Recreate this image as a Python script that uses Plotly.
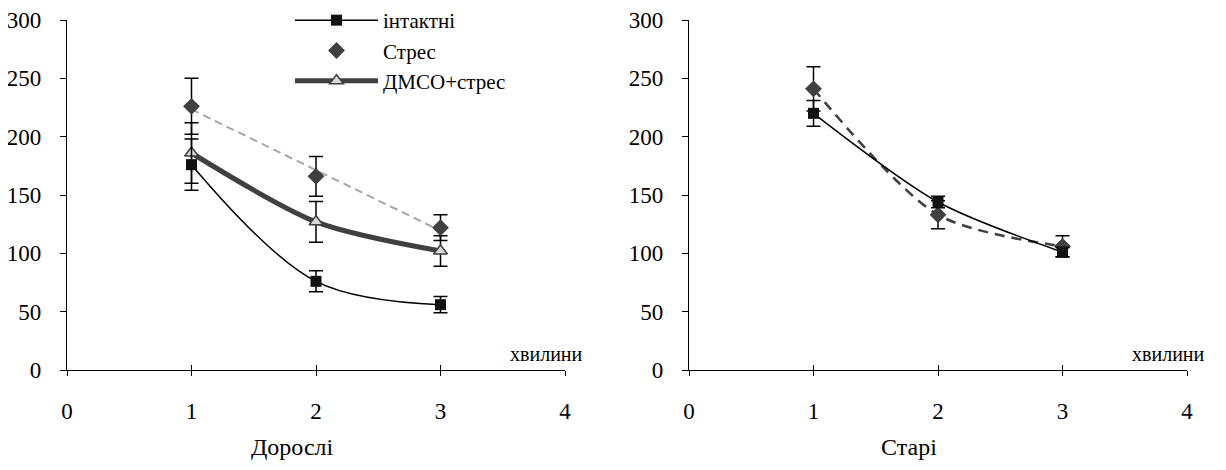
import numpy as np
import plotly.graph_objects as go

# ---- data ----
minutes = [1, 2, 3]
adult_intact = [176, 76, 56]
adult_intact_err = [22, 9, 7]
adult_stress = [226, 166, 122]
adult_stress_err = [24, 17, 11]
adult_dmso = [186, 127, 102]
adult_dmso_err = [26, 17.5, 13]
old_intact = [220, 144, 101]
old_intact_err = [11, 5, 4]
old_stress = [241, 133, 106]
old_stress_err = [19, 12, 9]

names = ["інтактні", "Стрес", "ДМСО+стрес"]
panel_titles = ["Дорослі", "Старі"]
x_unit = "хвилини"
x_ticks = [0, 1, 2, 3, 4]
y_ticks = [0, 50, 100, 150, 200, 250, 300]

FONT = "Liberation Serif"
W, H = 1226, 470
OFF = 8  # page body margin

fig = go.Figure()

def eb(vals):
    return dict(type="data", array=vals, color="black", thickness=1.5, width=7)

# Left panel
fig.add_trace(go.Scatter(
    x=minutes, y=adult_dmso, error_y=eb(adult_dmso_err), name=names[2],
    mode="lines+markers", line=dict(color="#404040", width=5, shape="spline", smoothing=0.8),
    marker=dict(symbol="triangle-up", size=12, color="#D9D9D9", line=dict(color="#404040", width=1.5)),
    xaxis="x", yaxis="y", legendrank=3))

coef = np.polyfit(minutes, adult_stress, 1)
trend = list(np.polyval(coef, minutes))
fig.add_trace(go.Scatter(
    x=minutes, y=trend, mode="lines", showlegend=False, hoverinfo="skip",
    line=dict(color="#A6A6A6", width=2, dash="8px,5px"), xaxis="x", yaxis="y"))

fig.add_trace(go.Scatter(
    x=minutes, y=adult_stress, error_y=eb(adult_stress_err), name=names[1],
    mode="markers", marker=dict(symbol="diamond", size=13, color="#404040"),
    xaxis="x", yaxis="y", legendrank=2))

fig.add_trace(go.Scatter(
    x=minutes, y=adult_intact, error_y=eb(adult_intact_err), name=names[0],
    mode="lines+markers", line=dict(color="black", width=1.5, shape="spline", smoothing=1.0),
    marker=dict(symbol="square", size=11, color="#111111"),
    xaxis="x", yaxis="y", legendrank=1))

# Right panel
fig.add_trace(go.Scatter(
    x=minutes, y=old_stress, error_y=eb(old_stress_err), name=names[1],
    mode="lines+markers", line=dict(color="#404040", width=2.5, shape="spline", smoothing=0.8, dash="10px,7px"),
    marker=dict(symbol="diamond", size=13, color="#404040"),
    xaxis="x2", yaxis="y2", showlegend=False))

fig.add_trace(go.Scatter(
    x=minutes, y=old_intact, error_y=eb(old_intact_err), name=names[0],
    mode="lines+markers", line=dict(color="black", width=1.5, shape="spline", smoothing=0.8),
    marker=dict(symbol="square", size=11, color="#111111"),
    xaxis="x2", yaxis="y2", showlegend=False))

def px(v):
    return (v - OFF) / W

def py(v):
    return (H - (v - OFF)) / H

left_dom = [px(67), px(565)]
right_dom = [px(689), px(1187)]
y_dom = [py(370), py(20)]

tickfont = dict(family=FONT, size=23, color="black")

def xax(dom, anchor, overlay=None, inside=False):
    d = dict(domain=dom, range=[0, 4], tickvals=x_ticks, showgrid=False, zeroline=False,
             showline=True, linecolor="black", linewidth=1.3, anchor=anchor,
             ticks="inside" if inside else "outside", ticklen=5, tickwidth=1.3, tickcolor="black",
             tickfont=tickfont, ticklabelstandoff=15, fixedrange=True, automargin=False)
    if overlay:
        d.update(overlaying=overlay, showticklabels=False)
    return d

def yax(anchor):
    return dict(domain=y_dom, range=[0, 300], tickvals=y_ticks, showgrid=False, zeroline=False,
                showline=True, linecolor="black", linewidth=1.3, anchor=anchor,
                ticks="outside", ticklen=6, tickwidth=1.3, tickcolor="black",
                tickfont=tickfont, ticklabelstandoff=14, fixedrange=True, automargin=False)

fig.update_layout(
    width=W, height=H, margin=dict(l=0, r=0, t=0, b=0, autoexpand=False),
    paper_bgcolor="white", plot_bgcolor="white",
    font=dict(family=FONT, size=23, color="black"),
    xaxis=xax(left_dom, "y"), yaxis=yax("x"),
    xaxis2=xax(right_dom, "y2"), yaxis2=yax("x2"),
    xaxis3=xax(left_dom, "y", overlay="x", inside=True),
    xaxis4=xax(right_dom, "y2", overlay="x2", inside=True),
    legend=dict(x=px(290), y=py(0), xanchor="left", yanchor="top", bgcolor="rgba(0,0,0,0)",
                font=dict(family=FONT, size=21, color="black"), itemwidth=83,
                tracegroupgap=0),
    showlegend=True,
)

annos = [
    dict(text=panel_titles[0], x=px(292), y=py(447), size=24),
    dict(text=panel_titles[1], x=px(909), y=py(447), size=24),
    dict(text=x_unit, x=px(546), y=py(354), size=20),
    dict(text=x_unit, x=px(1168), y=py(354), size=20),
]
for a in annos:
    s = a.pop("size")
    fig.add_annotation(xref="paper", yref="paper", showarrow=False, xanchor="center", yanchor="middle",
                       font=dict(family=FONT, size=s, color="black"), **a)

fig.add_trace(go.Scatter(x=[None], y=[None], xaxis="x3", yaxis="y", showlegend=False, hoverinfo="skip"))
fig.add_trace(go.Scatter(x=[None], y=[None], xaxis="x4", yaxis="y2", showlegend=False, hoverinfo="skip"))

fig.write_html("out.html")
